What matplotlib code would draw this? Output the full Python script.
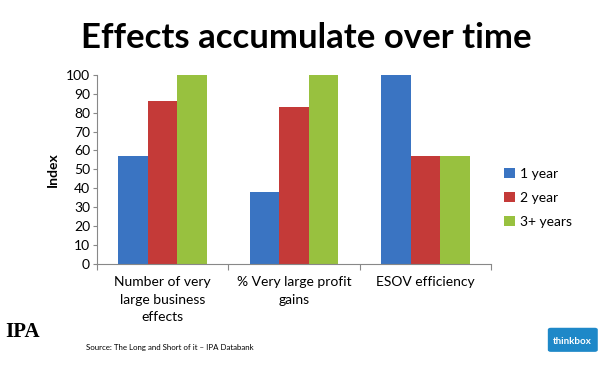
import numpy as np
import matplotlib.pyplot as plt
from matplotlib.patches import FancyBboxPatch

categories = ["Number of very\nlarge business\neffects", "% Very large profit\ngains", "ESOV efficiency"]
series_names = ["1 year", "2 year", "3+ years"]
one_year = [57, 38, 100]
two_year = [86, 83, 57]
three_year = [100, 100, 57]
colors = ["#3a74c2", "#c43a38", "#98c13f"]
yticks = list(range(0, 101, 10))

plt.rcParams['font.family'] = ['Lato', 'DejaVu Sans']

fig = plt.figure(figsize=(6.02, 3.65), dpi=100)
ax = fig.add_axes([0.161, 0.277, 0.655, 0.518])

x = np.arange(len(categories))
w = 0.225
for i, (vals, name, c) in enumerate(zip([one_year, two_year, three_year], series_names, colors)):
    ax.bar(x + (i - 1) * w, vals, w, color=c, label=name, zorder=2)

ax.set_xlim(-0.5, 2.5)
ax.set_ylim(0, 100)
ax.set_yticks(yticks)
ax.tick_params(axis='y', labelsize=10, length=3, color="#888888", pad=2)
ax.set_xticks([-0.5, 0.5, 1.5, 2.5])
ax.set_xticklabels([])
ax.tick_params(axis='x', length=4, color="#888888")
for xi, lab in zip(x, categories):
    ax.text(xi, -6.5, lab, ha='center', va='top', fontsize=10, linespacing=1.55)

for s in ['top', 'right']:
    ax.spines[s].set_visible(False)
for s in ['left', 'bottom']:
    ax.spines[s].set_color("#888888")

ax.set_ylabel("Index", fontsize=10, fontweight='bold', labelpad=5)

ax.legend(loc='center left', bbox_to_anchor=(1.0, 0.35), frameon=False,
          fontsize=10, handlelength=0.8, handleheight=0.8, handletextpad=0.4,
          labelspacing=0.85)

fig.text(0.508, 0.895, "Effects accumulate over time", ha='center', va='center',
         fontsize=25, fontweight='bold')
fig.text(0.143, 0.048, "Source: The Long and Short of it \u2013 IPA Databank",
         fontsize=5.7, ha='left', va='center')
fig.text(0.008, 0.09, "IPA", fontsize=15, fontweight='bold', family='Liberation Serif',
         ha='left', va='center')
logo = FancyBboxPatch((0.91, 0.036), 0.083, 0.066, boxstyle="round,pad=0,rounding_size=0.005",
                      transform=fig.transFigure, facecolor="#1e88c8", edgecolor="none")
fig.patches.append(logo)
fig.text(0.951, 0.064, "thinkbox", fontsize=7, color="white", ha='center', va='center',
         fontweight='bold')

fig.savefig("out.png", dpi=100)
